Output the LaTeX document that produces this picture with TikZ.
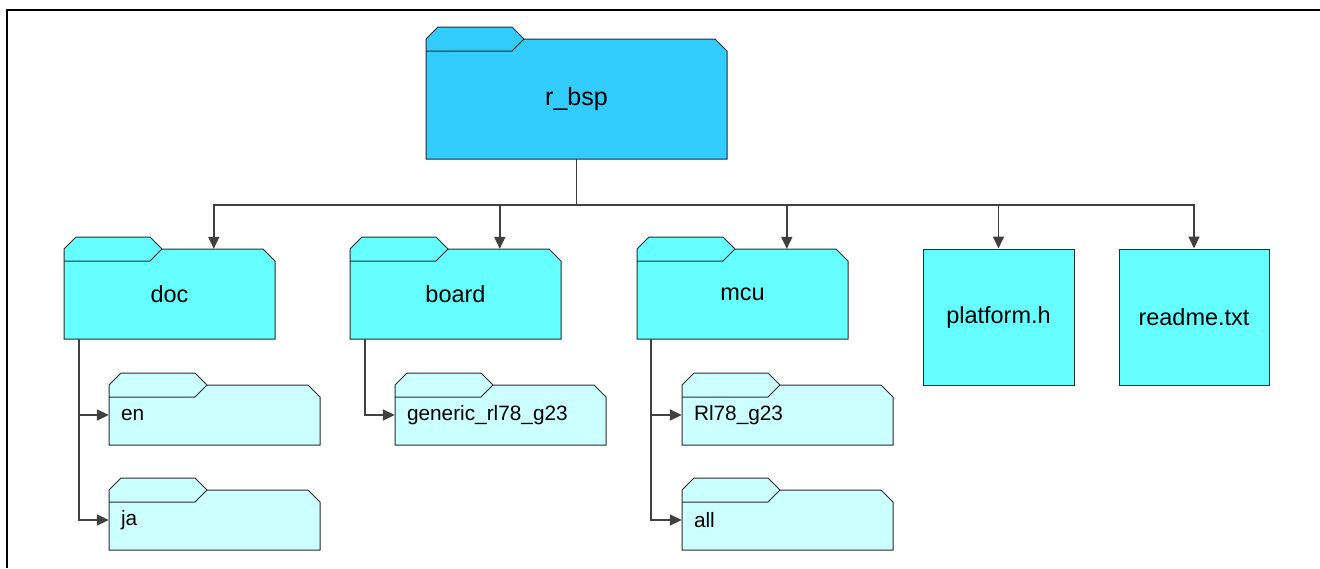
\documentclass[tikz,border=0pt]{standalone}
\usepackage{fontspec}
\setmainfont{Liberation Sans}
\usetikzlibrary{arrows.meta}
\definecolor{rootblue}{HTML}{33CCFF}
\definecolor{dircyan}{HTML}{66FFFF}
\definecolor{subcyan}{HTML}{CCFFFF}
\definecolor{edgegray}{HTML}{2A2A2A}
\definecolor{arrowgray}{HTML}{404040}
\tikzset{
  dirlabel/.style={inner sep=0pt,font=\fontsize{23.5}{28}\selectfont},
  rootlabel/.style={font=\fontsize{25}{30}\selectfont},
  sublabel/.style={inner xsep=12pt,text width=187pt,align=left,font=\fontsize{20.8}{25}\selectfont},
  filebox/.style={draw=edgegray,line width=1pt,fill=dircyan,minimum height=136pt,font=\fontsize{23.5}{28}\selectfont},
  arr/.style={draw=arrowgray,line width=1.8pt,-{Triangle[length=12pt,width=11pt]}}
}
% #1 style, #2 name, #3 x, #4 y of body top, #5 width, #6 height, #7 fill, #8 text
\newcommand{\folder}[8][]{%
  \filldraw[fill=#7,draw=edgegray,line width=1pt] (#3,#4+#6) -- (#3,#4) -- (#3+12,#4-12) -- (#3+86,#4-12) -- (#3+98,#4)
    -- (#3+#5-12,#4) -- (#3+#5,#4+12) -- (#3+#5,#4+#6) -- cycle;
  \draw[edgegray,line width=1pt] (#3,#4+12) -- (#3+86,#4+12) -- (#3+98,#4);
  \node[dirlabel,minimum width=#5pt,minimum height=#6pt,#1] (#2) at (#3+#5/2,#4+#6/2) {#8};
}
\begin{document}
\begin{tikzpicture}[x=1pt,y=-1pt]
  \useasboundingbox (0,0) rectangle (1320,568);
  \draw[line width=2pt] (7,568) -- (7,10) -- (1320,10);

  \folder[rootlabel]{root}{426}{39}{301}{120}{rootblue}{r\_bsp}
  \folder{doc}{64}{249}{211}{90}{dircyan}{doc}
  \folder{board}{350}{249}{211}{90}{dircyan}{board}
  \folder{mcu}{637}{249}{211}{90}{dircyan}{mcu}
  \node[filebox,minimum width=151pt] (platform) at (998.5,317) {platform.h};
  \node[filebox,minimum width=150pt] (readme) at (1194,317) {readme.txt};

  \folder[sublabel]{en}{109}{385}{211}{60}{subcyan}{en}
  \folder[sublabel]{ja}{109}{490}{211}{60}{subcyan}{ja}
  \folder[sublabel]{generic}{395}{385}{211}{60}{subcyan}{generic\_rl78\_g23}
  \folder[sublabel]{rl78}{682}{385}{211}{60}{subcyan}{Rl78\_g23}
  \folder[sublabel]{all}{682}{490}{211}{60}{subcyan}{all}

  \draw[arr] (root.south) -- ++(0,46) -| ([xshift=150pt]doc.north west);
  \draw[arr] (root.south) -- ++(0,46) -| ([xshift=150pt]board.north west);
  \draw[arr] (root.south) -- ++(0,46) -| ([xshift=150pt]mcu.north west);
  \draw[arr] (root.south) -- ++(0,46) -| (platform.north);
  \draw[arr] (root.south) -- ++(0,46) -| (readme.north);

  \draw[arr] ([xshift=15pt]doc.south west) |- (en.west);
  \draw[arr] ([xshift=15pt]doc.south west) |- (ja.west);
  \draw[arr] ([xshift=15pt]board.south west) |- (generic.west);
  \draw[arr] ([xshift=14pt]mcu.south west) |- (rl78.west);
  \draw[arr] ([xshift=14pt]mcu.south west) |- (all.west);
\end{tikzpicture}
\end{document}
